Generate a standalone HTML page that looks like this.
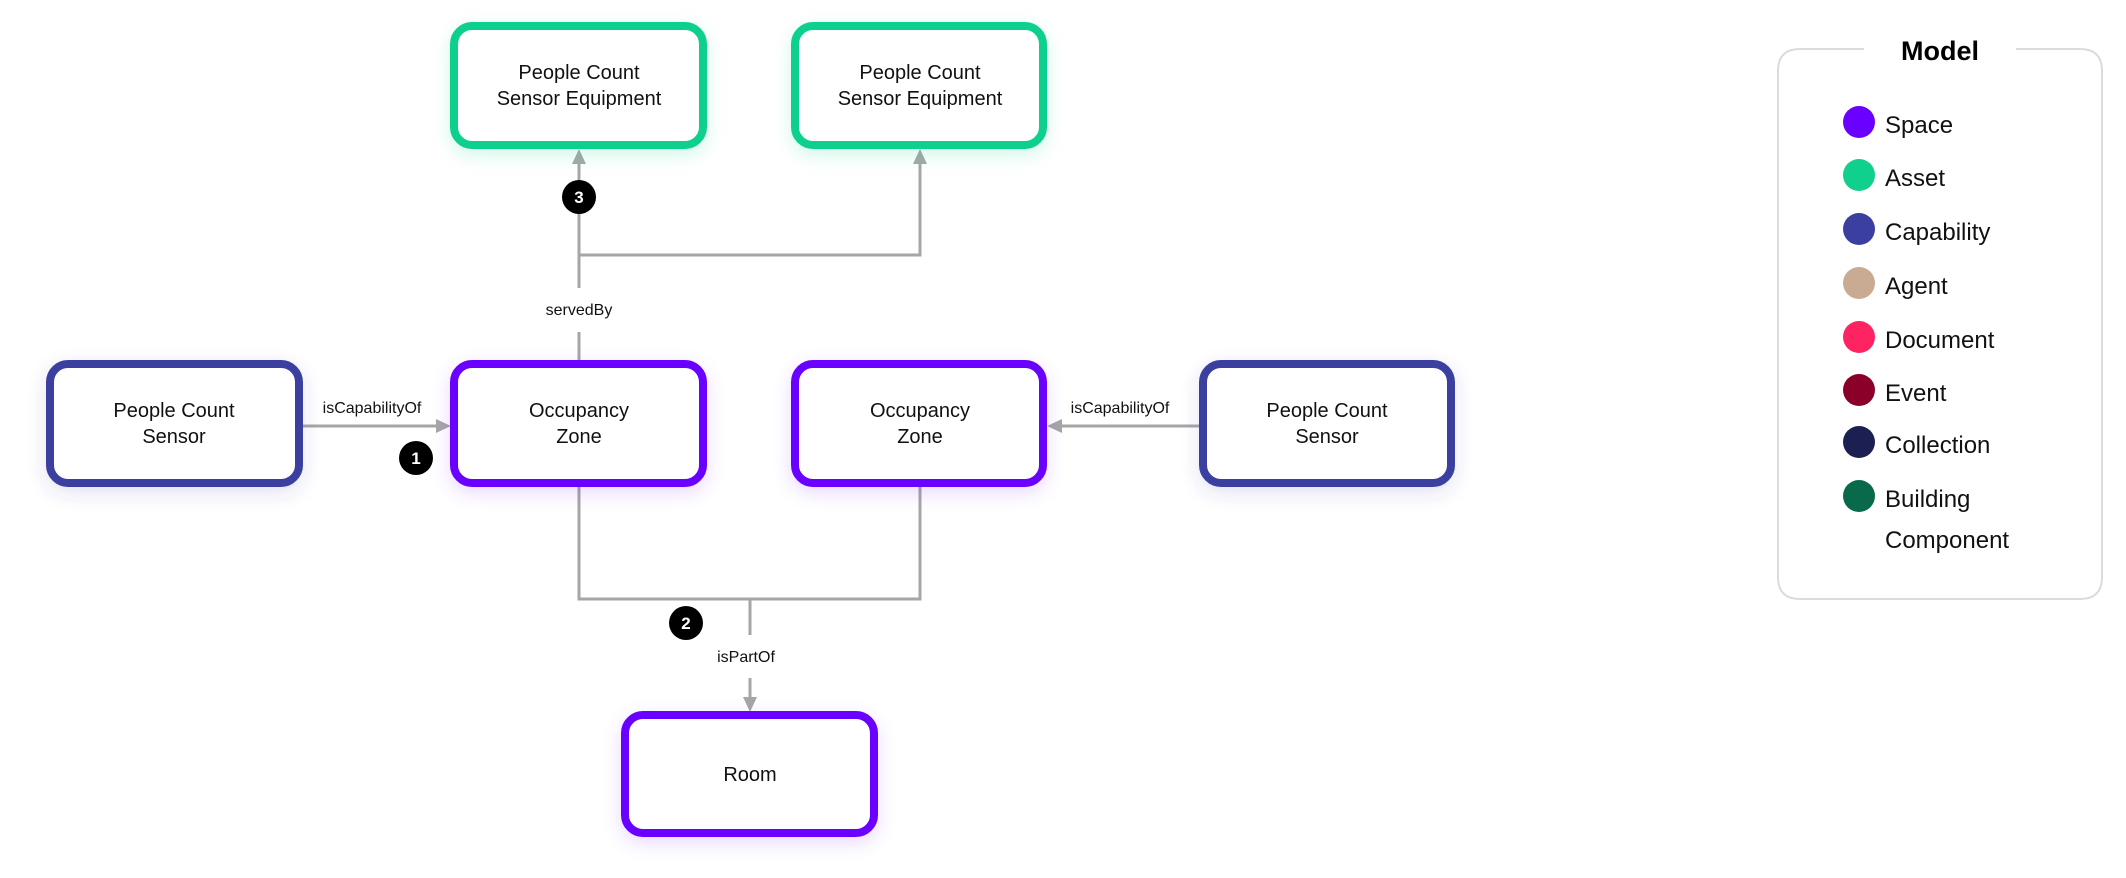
<!DOCTYPE html>
<html><head><meta charset="utf-8"><style>
html,body{margin:0;padding:0;background:#fff;}
svg{display:block;}
text{font-family:"Liberation Sans",sans-serif;}
</style></head><body>
<svg width="2126" height="878" viewBox="0 0 2126 878" xmlns="http://www.w3.org/2000/svg">
<defs>
<filter id="gs" x="-30%" y="-30%" width="160%" height="160%"><feDropShadow dx="0" dy="6" stdDeviation="9" flood-color="#0fd08c" flood-opacity="0.18"/></filter>
<filter id="ps" x="-30%" y="-30%" width="160%" height="160%"><feDropShadow dx="0" dy="6" stdDeviation="9" flood-color="#6a00ff" flood-opacity="0.15"/></filter>
<filter id="bs" x="-30%" y="-30%" width="160%" height="160%"><feDropShadow dx="0" dy="6" stdDeviation="9" flood-color="#3a3fa0" flood-opacity="0.15"/></filter>
</defs>
<g stroke="#a6a6a6" stroke-width="3" fill="none">
<polyline points="579,360 579,332"/>
<polyline points="579,288 579,160"/>
<polyline points="579,255 920,255 920,160"/>
<line x1="303" y1="426" x2="440" y2="426"/>
<line x1="1199" y1="426" x2="1058" y2="426"/>
<polyline points="579,487 579,599 920,599 920,487"/>
<line x1="750" y1="599" x2="750" y2="635"/>
<line x1="750" y1="678" x2="750" y2="700"/>
</g>
<g fill="#a6a6a6">
<polygon points="579,149 572,164 586,164"/>
<polygon points="920,149 913,164 927,164"/>
<polygon points="451,426 436,419 436,433"/>
<polygon points="1047,426 1062,419 1062,433"/>
<polygon points="750,712 743,697 757,697"/>
</g>
<g font-size="16" fill="#111" text-anchor="middle">
<text x="579" y="315">servedBy</text>
<text x="372" y="413">isCapabilityOf</text>
<text x="1120" y="413">isCapabilityOf</text>
<text x="746" y="662">isPartOf</text>
</g>
<g fill="#fff" stroke-width="8">
<rect x="454" y="26" width="249" height="119" rx="18" stroke="#0fd08c" filter="url(#gs)"/>
<rect x="795" y="26" width="248" height="119" rx="18" stroke="#0fd08c" filter="url(#gs)"/>
<rect x="50" y="364" width="249" height="119" rx="18" stroke="#3a3fa0" filter="url(#bs)"/>
<rect x="454" y="364" width="249" height="119" rx="18" stroke="#6a00ff" filter="url(#ps)"/>
<rect x="795" y="364" width="248" height="119" rx="18" stroke="#6a00ff" filter="url(#ps)"/>
<rect x="1203" y="364" width="248" height="119" rx="18" stroke="#3a3fa0" filter="url(#bs)"/>
<rect x="625" y="715" width="249" height="118" rx="18" stroke="#6a00ff" filter="url(#ps)"/>
</g>
<g font-size="20" fill="#111" text-anchor="middle">
<text x="579" y="79">People Count</text><text x="579" y="105">Sensor Equipment</text>
<text x="920" y="79">People Count</text><text x="920" y="105">Sensor Equipment</text>
<text x="174" y="417">People Count</text><text x="174" y="443">Sensor</text>
<text x="579" y="417">Occupancy</text><text x="579" y="443">Zone</text>
<text x="920" y="417">Occupancy</text><text x="920" y="443">Zone</text>
<text x="1327" y="417">People Count</text><text x="1327" y="443">Sensor</text>
<text x="750" y="781">Room</text>
</g>
<g>
<circle cx="579" cy="197" r="17" fill="#000"/><text x="579" y="203" font-size="17" font-weight="bold" fill="#fff" text-anchor="middle">3</text>
<circle cx="416" cy="458" r="17" fill="#000"/><text x="416" y="464" font-size="17" font-weight="bold" fill="#fff" text-anchor="middle">1</text>
<circle cx="686" cy="623" r="17" fill="#000"/><text x="686" y="629" font-size="17" font-weight="bold" fill="#fff" text-anchor="middle">2</text>
</g>
<path d="M1864,49 H1800 Q1778,49 1778,71 V577 Q1778,599 1800,599 H2080 Q2102,599 2102,577 V71 Q2102,49 2080,49 H2016" fill="none" stroke="#dcdcdc" stroke-width="2"/>
<text x="1940" y="60" font-size="27" font-weight="bold" fill="#000" text-anchor="middle">Model</text>
<g font-size="24" fill="#111">
<circle cx="1859" cy="122" r="16" fill="#6a00ff"/><text x="1885" y="133">Space</text>
<circle cx="1859" cy="175" r="16" fill="#0fd08c"/><text x="1885" y="186">Asset</text>
<circle cx="1859" cy="229" r="16" fill="#3a3fa0"/><text x="1885" y="240">Capability</text>
<circle cx="1859" cy="283" r="16" fill="#c9aa92"/><text x="1885" y="294">Agent</text>
<circle cx="1859" cy="337" r="16" fill="#ff2461"/><text x="1885" y="348">Document</text>
<circle cx="1859" cy="390" r="16" fill="#8b0028"/><text x="1885" y="401">Event</text>
<circle cx="1859" cy="442" r="16" fill="#1c1f52"/><text x="1885" y="453">Collection</text>
<circle cx="1859" cy="496" r="16" fill="#086a4b"/><text x="1885" y="507">Building</text>
<text x="1885" y="548">Component</text>
</g>
</svg>
</body></html>
